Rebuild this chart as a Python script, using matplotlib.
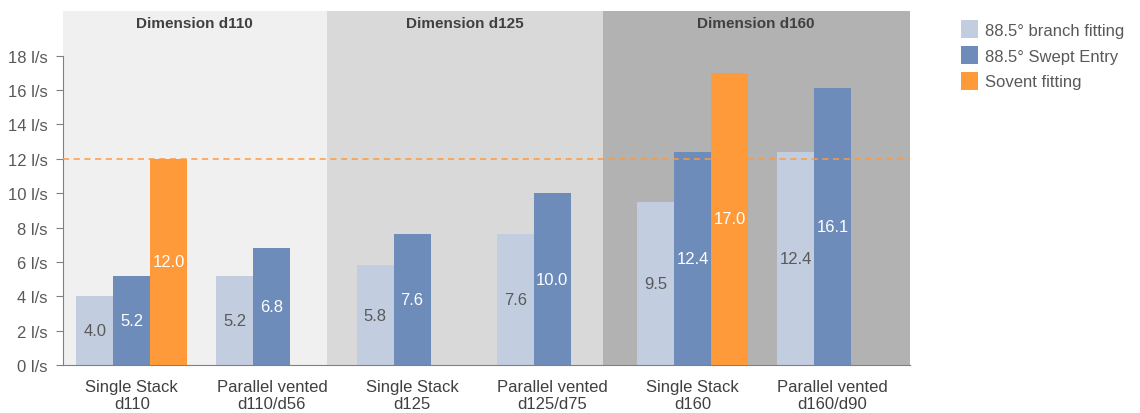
import matplotlib.pyplot as plt
import numpy as np

plt.rcParams['font.family'] = ['Liberation Sans', 'DejaVu Sans']

categories = ["Single Stack\nd110", "Parallel vented\nd110/d56",
              "Single Stack\nd125", "Parallel vented\nd125/d75",
              "Single Stack\nd160", "Parallel vented\nd160/d90"]
branch = [4.0, 5.2, 5.8, 7.6, 9.5, 12.4]
swept = [5.2, 6.8, 7.6, 10.0, 12.4, 16.1]
sovent = [12.0, None, None, None, 17.0, None]
series_names = ["88.5° branch fitting", "88.5° Swept Entry", "Sovent fitting"]
dimensions = ["Dimension d110", "Dimension d125", "Dimension d160"]
yticks = [0, 2, 4, 6, 8, 10, 12, 14, 16, 18]
limit = 12

c_light = "#c3cde0"
c_dark = "#6d8cba"
c_orange = "#ff9a3b"
panel_colors = ["#f0f0f0", "#d9d9d9", "#b2b2b2"]
panel_edges = [-0.49, 1.39, 3.36, 5.55]

fig = plt.figure(figsize=(11.4, 4.14), dpi=100)
ax = fig.add_axes([0.0553, 0.116, 0.7427, 0.855])

x = np.arange(len(categories))
w = 0.264

# background panels per pipe dimension
for i in range(3):
    ax.axvspan(panel_edges[i], panel_edges[i + 1], color=panel_colors[i], zorder=0, lw=0)
    ax.text((panel_edges[i] + panel_edges[i + 1]) / 2, 19.9, dimensions[i],
            ha="center", va="center", fontsize=11, fontweight="bold", color="#404040")

# 12 l/s reference line, drawn over the bars
ax.axhline(limit, color=c_orange, ls=(0, (4, 3)), lw=1.1, zorder=5)

b1 = ax.bar(x - w, branch, w, color=c_light, label=series_names[0], zorder=2)
b2 = ax.bar(x, swept, w, color=c_dark, label=series_names[1], zorder=2)
sx = [xi + w for xi, v in zip(x, sovent) if v is not None]
sv = [v for v in sovent if v is not None]
b3 = ax.bar(sx, sv, w, color=c_orange, label=series_names[2], zorder=3)

for xi, v in zip(x - w, branch):
    ax.text(xi, v / 2, f"{v:.1f}", ha="center", va="center", fontsize=12, color="#595959", zorder=4)
for xi, v in zip(x, swept):
    ax.text(xi, v / 2, f"{v:.1f}", ha="center", va="center", fontsize=12, color="white", zorder=4)
for xi, v in zip(sx, sv):
    ax.text(xi, v / 2, f"{v:.1f}", ha="center", va="center", fontsize=12, color="white", zorder=4)

ax.set_xlim(-0.49, 5.55)
ax.set_ylim(0, 20.6)
ax.set_yticks(yticks)
ax.set_yticklabels([f"{t} l/s" for t in yticks], fontsize=12, color="#595959")
ax.set_xticks(x)
ax.set_xticklabels(categories, fontsize=12, color="#404040")
ax.tick_params(axis="x", length=0, pad=10)
ax.tick_params(axis="y", length=5, color="#808080", pad=6)

for s in ["top", "right"]:
    ax.spines[s].set_visible(False)
ax.spines["left"].set_color("#808080")
ax.spines["bottom"].set_color("#808080")
ax.spines["left"].set_bounds(0, 18)

leg = fig.legend(handles=[b1, b2, b3], loc="upper left", bbox_to_anchor=(0.83, 0.985),
                 frameon=False, fontsize=12, handlelength=1.0, handleheight=1.3,
                 handletextpad=0.4, labelspacing=0.45)
for t in leg.get_texts():
    t.set_color("#595959")

fig.savefig("out.png", dpi=100)
